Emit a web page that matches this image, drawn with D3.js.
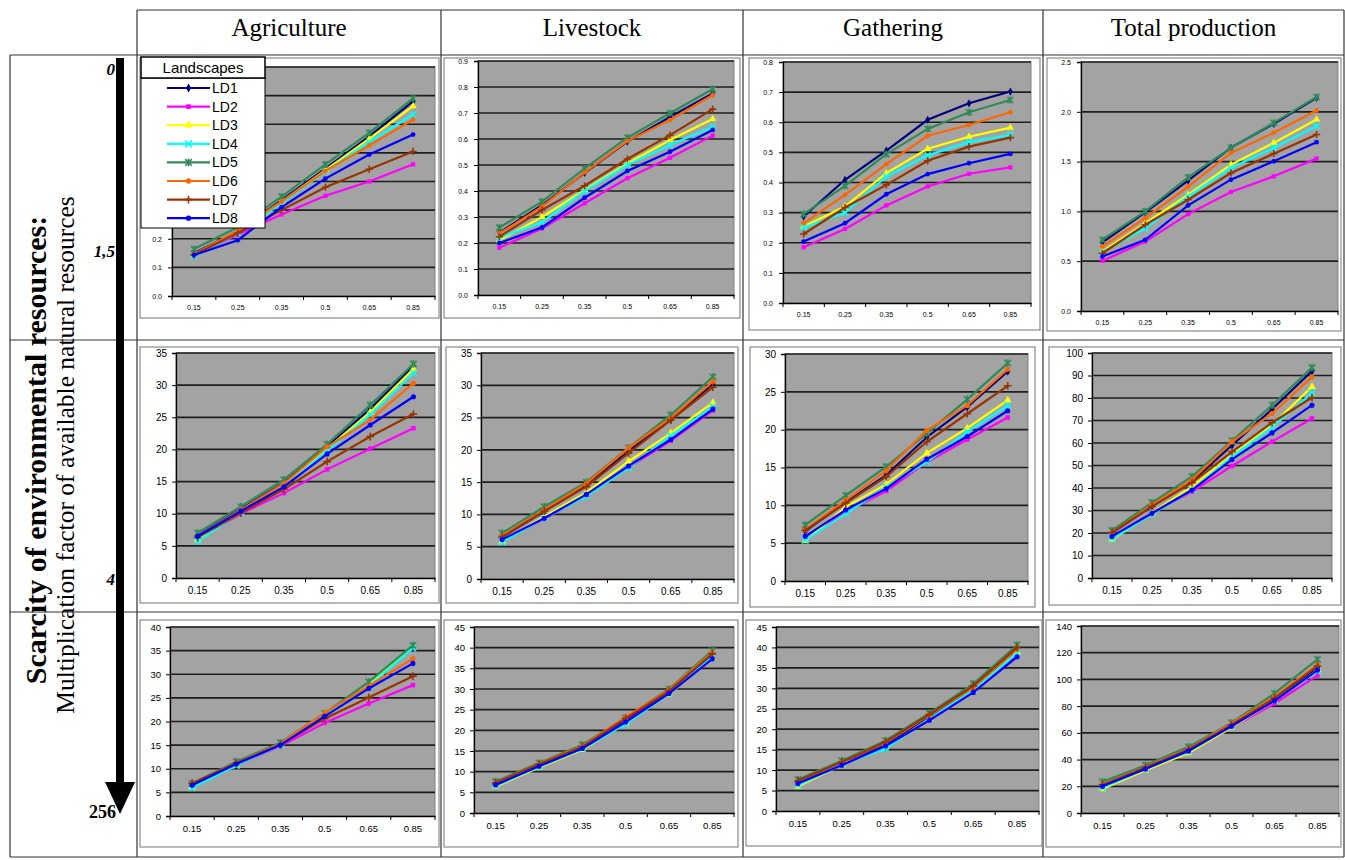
<!DOCTYPE html>
<html><head><meta charset="utf-8">
<script src="https://cdn.jsdelivr.net/npm/d3@7"></script>
<style>body{margin:0;background:#fff} svg{display:block}</style>
</head><body>
<svg id="c" width="1345" height="860"></svg>
<script>
// ---------------- DATA ----------------
const categories = ["0.15","0.25","0.35","0.5","0.65","0.85"];
const landscapes = ["LD1","LD2","LD3","LD4","LD5","LD6","LD7","LD8"];
const sectors = ["Agriculture","Livestock","Gathering","Total production"];
const scarcityLabels = ["0","1,5","4","256"];
const legendTitle = "Landscapes";
const axisTitle1 = "Scarcity of environmental resources:";
const axisTitle2 = "Multiplication factor of available natural resources";

// y-axis maxima and tick steps per row (Agriculture, Livestock, Gathering, Total)
const yMaxRow1 = [0.8, 0.9, 0.8, 2.5];
const yStepRow1 = [0.1, 0.1, 0.1, 0.5];
const yMaxRow2 = [35, 35, 30, 100];
const yStepRow2 = [5, 5, 5, 10];
const yMaxRow3 = [40, 45, 45, 140];
const yStepRow3 = [5, 5, 5, 20];

// series values, one array per landscape LD1..LD8
const agricultureRow1 = [
  [0.149,0.225,0.335,0.445,0.558,0.680],
  [0.140,0.215,0.285,0.350,0.400,0.460],
  [0.145,0.225,0.330,0.440,0.550,0.663],
  [0.137,0.220,0.325,0.435,0.538,0.634],
  [0.164,0.240,0.347,0.460,0.570,0.690],
  [0.145,0.228,0.330,0.437,0.526,0.616],
  [0.143,0.220,0.300,0.380,0.443,0.505],
  [0.143,0.195,0.310,0.410,0.494,0.564]];
const livestockRow1 = [
  [0.240,0.345,0.470,0.590,0.685,0.775],
  [0.182,0.256,0.353,0.449,0.528,0.613],
  [0.210,0.300,0.404,0.506,0.596,0.677],
  [0.220,0.280,0.400,0.500,0.577,0.647],
  [0.259,0.359,0.487,0.605,0.699,0.792],
  [0.237,0.340,0.472,0.592,0.673,0.769],
  [0.224,0.327,0.420,0.523,0.615,0.715],
  [0.200,0.260,0.374,0.477,0.551,0.635]];
const gatheringRow1 = [
  [0.287,0.409,0.506,0.608,0.663,0.702],
  [0.185,0.246,0.324,0.387,0.429,0.450],
  [0.254,0.320,0.431,0.512,0.552,0.582],
  [0.250,0.300,0.420,0.490,0.534,0.558],
  [0.295,0.389,0.494,0.578,0.633,0.674],
  [0.265,0.359,0.461,0.555,0.591,0.633],
  [0.229,0.317,0.392,0.472,0.519,0.549],
  [0.204,0.265,0.361,0.428,0.464,0.495]];
const totalRow1 = [
  [0.690,0.990,1.310,1.640,1.880,2.140],
  [0.503,0.698,0.973,1.195,1.352,1.530],
  [0.597,0.880,1.168,1.470,1.688,1.923],
  [0.590,0.830,1.150,1.436,1.638,1.856],
  [0.715,1.000,1.342,1.638,1.889,2.148],
  [0.648,0.933,1.250,1.587,1.789,2.013],
  [0.580,0.866,1.117,1.386,1.580,1.772],
  [0.547,0.715,1.060,1.319,1.503,1.695]];

const agricultureRow2 = [
  [6.6,10.7,14.8,20.4,26.3,33.0],
  [6.0,10.0,13.2,16.9,20.1,23.3],
  [6.0,10.4,14.5,20.1,25.8,32.5],
  [5.7,10.2,14.2,19.8,25.4,31.9],
  [7.0,11.1,15.3,20.8,26.9,33.3],
  [6.5,10.6,14.7,20.4,24.6,30.3],
  [6.3,10.1,13.8,18.1,22.0,25.5],
  [6.5,10.4,14.2,19.3,23.8,28.2]];
const livestockRow2 = [
  [6.5,10.5,14.5,19.8,24.7,30.2],
  [5.9,9.3,12.9,17.3,21.4,26.1],
  [5.8,9.7,13.4,18.2,22.6,27.3],
  [5.7,9.4,12.8,17.2,22.2,26.7],
  [7.1,11.2,15.0,20.3,25.4,31.3],
  [6.7,10.7,14.8,20.3,24.9,30.6],
  [6.5,10.5,14.3,19.5,24.6,29.7],
  [6.1,9.4,13.1,17.5,21.6,26.3]];
const gatheringRow2 = [
  [6.6,10.4,14.0,19.0,23.0,27.7],
  [5.6,9.1,11.9,15.7,18.7,21.6],
  [5.3,9.8,12.8,16.9,20.2,23.9],
  [5.4,8.9,12.4,15.7,19.7,23.2],
  [7.4,11.3,15.1,19.5,24.0,28.8],
  [6.8,10.7,14.6,19.9,23.2,28.0],
  [6.7,10.3,13.8,18.4,22.1,25.8],
  [5.9,9.4,12.2,16.1,19.1,22.5]];
const totalRow2 = [
  [20.0,32.0,43.0,59.0,75.0,92.0],
  [18.0,29.0,38.4,49.8,60.6,70.9],
  [17.0,29.0,40.6,54.7,68.0,85.0],
  [17.3,28.5,39.1,53.9,66.9,82.3],
  [21.1,33.5,45.1,61.0,76.8,93.5],
  [20.0,32.5,43.6,60.6,73.1,89.4],
  [20.2,31.8,42.4,56.1,69.0,80.2],
  [18.5,28.8,39.1,52.7,64.5,76.8]];

const agricultureRow3 = [
  [6.6,11.0,15.2,21.5,28.0,35.7],
  [6.3,10.7,14.8,19.7,23.8,27.7],
  [6.2,10.8,15.0,21.3,27.8,35.8],
  [6.0,10.7,15.0,21.2,27.5,35.5],
  [6.9,11.5,15.5,21.7,28.4,36.1],
  [6.8,11.2,15.3,21.8,27.5,33.3],
  [6.9,11.2,15.1,20.6,25.1,29.6],
  [6.5,11.0,15.0,21.1,27.0,32.3]];
const livestockRow3 = [
  [7.0,11.6,15.9,22.6,29.3,38.3],
  [6.6,11.2,15.5,22.1,28.8,37.6],
  [6.4,11.0,15.3,21.8,28.7,37.5],
  [6.6,11.2,15.5,21.5,28.8,37.8],
  [7.6,12.1,16.5,23.0,30.0,39.3],
  [7.3,11.9,16.2,23.2,29.8,38.9],
  [7.3,11.8,16.0,22.9,29.5,38.5],
  [6.8,11.3,15.6,22.0,28.9,37.3]];
const gatheringRow3 = [
  [7.0,11.7,16.4,23.0,29.9,39.3],
  [6.5,11.3,15.7,22.3,29.2,38.2],
  [6.0,11.3,15.6,22.5,29.5,38.8],
  [6.3,11.4,15.2,22.6,29.6,38.6],
  [7.7,12.3,17.2,23.9,31.1,40.6],
  [7.2,11.9,16.7,23.4,30.2,39.6],
  [7.4,12.0,16.9,23.6,30.6,40.0],
  [6.7,11.2,15.9,22.2,29.0,37.7]];
const totalRow3 = [
  [20.5,33.5,47.0,65.5,85.5,109.0],
  [19.0,32.5,45.5,64.0,82.0,103.0],
  [18.0,32.0,45.0,64.0,84.0,107.0],
  [19.0,33.0,46.0,65.0,84.5,106.0],
  [23.3,35.8,49.5,67.5,89.5,115.0],
  [21.5,34.5,48.0,67.0,87.0,111.0],
  [21.0,34.0,47.5,66.0,86.0,110.0],
  [20.0,33.0,46.5,65.0,84.0,107.0]];

// ---------------- STYLE / LAYOUT ----------------
const colors = ["#000080","#FF00FF","#FFFF00","#00FFFF","#2E8B57","#FF6600","#993300","#0000FF"];
const panelData = [
  [agricultureRow1, livestockRow1, gatheringRow1, totalRow1],
  [agricultureRow2, livestockRow2, gatheringRow2, totalRow2],
  [agricultureRow3, livestockRow3, gatheringRow3, totalRow3]];
const yMax = [yMaxRow1, yMaxRow2, yMaxRow3];
const yStep = [yStepRow1, yStepRow2, yStepRow3];

// plot-area rectangles [left, top, right, bottom]
const plotRects = [
  [[172,67,435,296],[478,61,734,295],[783,62,1031,303],[1081,62,1338,311]],
  [[176,353,435,578],[481,353,734,579],[785,354,1028,581],[1092,353,1332,578]],
  [[170,627,435,816],[474,627,734,813],[776,627,1039,811],[1081,626,1339,813]]];
// chart frames
const frames = [
  [[140,58,439,318],[444,58,740,318],[749,58,1040,330],[1047,58,1341,331]],
  [[140,347,439,603],[446,347,738,603],[750,347,1035,607],[1049,347,1341,605]],
  [[140,620,439,847],[444,620,738,847],[746,620,1042,846],[1046,620,1341,847]]];
const rowFont = [7, 10, 9.5];

const svg = d3.select("#c");
const serif = "'Liberation Serif','Times New Roman',serif";
const sans = "'Liberation Sans',Arial,sans-serif";

// ---------- table grid ----------
const grid = svg.append("g").attr("stroke","#333").attr("stroke-width",1.2).attr("fill","none");
const colX = [137,441,743,1043,1344];
const rowY = [55,340,612,857];
grid.append("line").attr("x1",137).attr("x2",1344).attr("y1",10).attr("y2",10);
colX.forEach(x => grid.append("line").attr("x1",x).attr("x2",x).attr("y1",10).attr("y2",857));
rowY.forEach(y => grid.append("line").attr("x1",10).attr("x2",1344).attr("y1",y).attr("y2",y));
grid.append("line").attr("x1",10).attr("x2",10).attr("y1",55).attr("y2",857);

// headers
sectors.forEach((s,i) => {
  svg.append("text").attr("x",(colX[i]+colX[i+1])/2).attr("y",36)
    .attr("text-anchor","middle").attr("font-family",serif).attr("font-size",25)
    .attr("fill","#000").text(s);
});

// ---------- left axis: arrow & titles ----------
svg.append("line").attr("x1",120).attr("x2",120).attr("y1",58).attr("y2",790)
  .attr("stroke","#000").attr("stroke-width",8);
svg.append("path").attr("d","M105,782 L135,782 L120,814 Z").attr("fill","#000");
const scY = [75, 257, 585, 818];
scarcityLabels.forEach((t,i) => {
  svg.append("text").attr("x",i===3?116:115).attr("y",scY[i]).attr("text-anchor","end")
    .attr("font-family",serif).attr("font-size",i===3?18:17).attr("font-weight","bold")
    .attr("font-style", i===3 ? "normal" : "italic").text(t);
});
svg.append("text").attr("transform","translate(46,450) rotate(-90)")
  .attr("text-anchor","middle").attr("font-family",serif).attr("font-size",30)
  .attr("font-weight","bold").text(axisTitle1);
svg.append("text").attr("transform","translate(74,455) rotate(-90)")
  .attr("text-anchor","middle").attr("font-family",serif).attr("font-size",25.5)
  .text(axisTitle2);

// ---------- markers ----------
function drawMarker(g, i, cx, cy, s, col) {
  const fillSym = {0:d3.symbolDiamond, 1:d3.symbolSquare, 2:d3.symbolTriangle, 5:d3.symbolCircle, 7:d3.symbolCircle};
  if (fillSym[i]) {
    const area = (i===0? 2.2 : i===2 ? 2.6 : 2.0) * s * s;
    g.append("path").attr("d", d3.symbol().type(fillSym[i]).size(area)())
      .attr("transform",`translate(${cx},${cy})`).attr("fill",col);
  } else {
    let d;
    if (i===3) d = `M${-s},${-s}L${s},${s}M${-s},${s}L${s},${-s}`;
    else if (i===4) d = `M${-s},${-s}L${s},${s}M${-s},${s}L${s},${-s}M0,${-s*1.2}L0,${s*1.2}`;
    else d = `M${-s*1.2},0L${s*1.2},0M0,${-s*1.2}L0,${s*1.2}`;
    g.append("path").attr("d",d).attr("transform",`translate(${cx},${cy})`)
      .attr("stroke",col).attr("stroke-width",1.6).attr("fill","none");
  }
}

// ---------- panels ----------
function drawPanel(row, col) {
  const [l,t,r,b] = plotRects[row][col];
  const fr = frames[row][col];
  const g = svg.append("g");
  g.append("rect").attr("x",fr[0]).attr("y",fr[1]).attr("width",fr[2]-fr[0]).attr("height",fr[3]-fr[1])
    .attr("fill","#fff").attr("stroke","#8a8a8a").attr("stroke-width",1.2);
  const x = d3.scaleBand().domain(categories).range([l,r]);
  const y = d3.scaleLinear().domain([0,yMax[row][col]]).range([b,t]);
  const step = yStep[row][col];
  const ticks = d3.range(0, Math.round(yMax[row][col]/step)+1).map(k => +(k*step).toFixed(4));
  g.append("rect").attr("x",l).attr("y",t).attr("width",r-l).attr("height",b-t)
    .attr("fill","#a3a3a3").attr("stroke","#808080").attr("stroke-width",1);
  g.selectAll(null).data(ticks.slice(1)).enter().append("line")
    .attr("x1",l).attr("x2",r).attr("y1",d=>y(d)).attr("y2",d=>y(d))
    .attr("stroke","#1e1e1e").attr("stroke-width",1.7);
  const fs = rowFont[row];
  const fmt = row===0 ? d3.format(".1f") : d3.format("d");
  const ya = g.append("g").attr("transform",`translate(${l},0)`)
    .call(d3.axisLeft(y).tickValues(ticks).tickSize(4).tickPadding(row===0?6:5).tickFormat(fmt));
  ya.select(".domain").attr("stroke","#000").attr("stroke-width",1.3);
  ya.selectAll("text").attr("font-family",sans).attr("font-size",fs).attr("fill","#000");
  const xa = g.append("g").attr("transform",`translate(0,${b})`)
    .call(d3.axisBottom(x).tickSize(0).tickPadding(9));
  xa.select(".domain").attr("stroke","#000").attr("stroke-width",1.3);
  xa.selectAll("text").attr("font-family",sans).attr("font-size",fs).attr("fill","#000");
  const seps = categories.map(c => x(c)).concat([r]);
  g.selectAll(null).data(seps).enter().append("line")
    .attr("x1",d=>d).attr("x2",d=>d).attr("y1",b).attr("y2",b+4).attr("stroke","#000").attr("stroke-width",1);
  const line = d3.line().x((d,k)=>x(categories[k])+x.bandwidth()/2).y(d=>y(d));
  const series = panelData[row][col];
  const ms = row===0 ? 3 : 3.2;
  series.forEach((vals,i) => {
    g.append("path").attr("d",line(vals)).attr("fill","none").attr("stroke",colors[i])
      .attr("stroke-width",2.2);
    vals.forEach((v,k) => drawMarker(g, i, x(categories[k])+x.bandwidth()/2, y(v), ms, colors[i]));
  });
}
for (let r=0;r<3;r++) for (let c=0;c<4;c++) drawPanel(r,c);

// ---------- legend (in first panel) ----------
const lg = svg.append("g");
lg.append("rect").attr("x",141).attr("y",78).attr("width",124).attr("height",150)
  .attr("fill","#fff").attr("stroke","#000").attr("stroke-width",1);
lg.append("rect").attr("x",141).attr("y",57).attr("width",124).attr("height",21)
  .attr("fill","#fff").attr("stroke","#000").attr("stroke-width",1.5);
lg.append("text").attr("x",203).attr("y",73).attr("text-anchor","middle")
  .attr("font-family",sans).attr("font-size",15).text(legendTitle);
landscapes.forEach((name,i) => {
  const yy = 88 + i*18.6;
  lg.append("line").attr("x1",167).attr("x2",210).attr("y1",yy).attr("y2",yy)
    .attr("stroke",colors[i]).attr("stroke-width",2.2);
  drawMarker(lg, i, 188.5, yy, 3.3, colors[i]);
  lg.append("text").attr("x",212).attr("y",yy+5).attr("font-family",sans).attr("font-size",14).text(name);
});
</script>
</body></html>
